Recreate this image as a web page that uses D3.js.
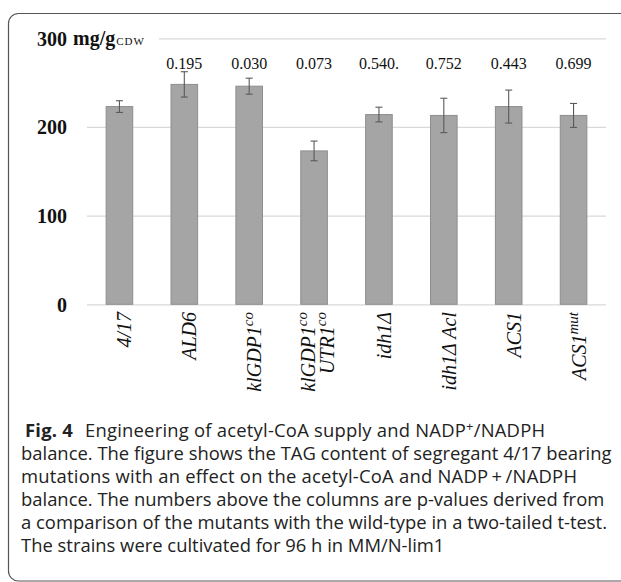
<!DOCTYPE html>
<html><head><meta charset="utf-8">
<script src="https://cdn.jsdelivr.net/npm/d3@7"></script>
<style>
body{margin:0;background:#fff}
svg text{white-space:pre}
</style>
</head><body>
<svg id="chart" width="621" height="582"></svg>
<script>
// ---------- data ----------
const categories = ["4/17","ALD6","klGDP1co","klGDP1co UTR1co","idh1Δ","idh1Δ Acl","ACS1","ACS1mut"];
// label lines: [main text, superscript]
const labelLines = [
  [["4/17",""]],
  [["ALD6",""]],
  [["klGDP1","co"]],
  [["klGDP1","co"],["UTR1","co"]],
  [["idh1Δ",""]],
  [["idh1Δ Acl",""]],
  [["ACS1",""]],
  [["ACS1","mut"]]
];
const values = [223, 248, 246, 173, 214, 213, 223, 213];
const errors = [6.6, 14.3, 9, 11.1, 8.3, 19.4, 18.6, 13.5];
const pValues = ["", "0.195", "0.030", "0.073", "0.540.", "0.752", "0.443", "0.699"];
const yTicks = [0, 100, 200, 300];
const unitMain = "mg/g", unitSub = "CDW";
const captionLines = [
  [["Fig. 4","b"],["Engineering of acetyl-CoA supply and NADP","gap"],["+","sup"],["/NADPH","back"]],
  [["balance. The figure shows the TAG content of segregant 4/17 bearing",""]],
  [["mutations with an effect on the acetyl-CoA and NADP\u2009+\u2009/NADPH",""]],
  [["balance. The numbers above the columns are p-values derived from",""]],
  [["a comparison of the mutants with the wild-type in a two-tailed t-test.",""]],
  [["The strains were cultivated for 96 h in MM/N-lim1",""]]
];

// ---------- layout ----------
const svg = d3.select("#chart");
const plotL = 87, plotR = 606, plotT = 38.3, plotB = 304.3;
const serif = "'Liberation Serif','Times New Roman',serif";
const sans = "'Open Sans','Noto Sans',sans-serif";

// frame
svg.append("rect")
  .attr("x", 8.5).attr("y", 13.5).attr("width", 700).attr("height", 567.5)
  .attr("rx", 10).attr("ry", 10)
  .attr("fill", "none").attr("stroke", "#555").attr("stroke-width", 1.2);

const x = d3.scaleBand().domain(categories).range([plotL, plotR]).padding(0);
const y = d3.scaleLinear().domain([0, 300]).range([plotB, plotT]);
const barW = x.bandwidth() * 0.41;
const cx = d => x(d) + x.bandwidth() / 2;

// gridlines + y labels
const yAxis = d3.axisLeft(y).tickValues(yTicks).tickSize(-(plotR - plotL)).tickPadding(20).tickFormat(d3.format("d"));
const gy = svg.append("g").attr("transform", `translate(${plotL},0)`).call(yAxis);
gy.select(".domain").remove();
gy.selectAll(".tick line").attr("stroke", "#d9d9d9").attr("stroke-width", 1.2);
gy.selectAll(".tick text")
  .attr("font-family", serif).attr("font-size", 20).attr("font-weight", "bold").attr("fill", "#111")
  .attr("dy", "0.34em");

// unit label after the 300 tick
const unitG = svg.append("g");
const unitText = unitG.append("text")
  .attr("x", plotL - 20 + 6).attr("y", y(300)).attr("dy", "0.34em")
  .attr("font-family", serif).attr("font-size", 20).attr("font-weight", "bold").attr("fill", "#111");
unitText.append("tspan").text(unitMain);
unitText.append("tspan").attr("font-size", 11).attr("font-weight", "normal").attr("letter-spacing", 1).attr("dx", 1).text(unitSub);
const bb = unitText.node().getBBox();
unitG.insert("rect", "text")
  .attr("x", plotL).attr("y", y(300) - 3).attr("width", bb.x + bb.width + 14 - plotL).attr("height", 6)
  .attr("fill", "#fff");

// bars
svg.append("g").selectAll("rect").data(categories).join("rect")
  .attr("x", d => cx(d) - barW / 2)
  .attr("y", (d, i) => y(values[i]))
  .attr("width", barW)
  .attr("height", (d, i) => y(0) - y(values[i]))
  .attr("fill", "#a5a5a5").attr("stroke", "#8e8e8e").attr("stroke-width", 1);

// error bars
const eg = svg.append("g").attr("stroke", "#5a5a5a").attr("stroke-width", 1.1);
categories.forEach((c, i) => {
  const xc = cx(c), lo = y(values[i] - errors[i]), hi = y(values[i] + errors[i]);
  eg.append("line").attr("x1", xc).attr("x2", xc).attr("y1", lo).attr("y2", hi);
  eg.append("line").attr("x1", xc - 3.5).attr("x2", xc + 3.5).attr("y1", lo).attr("y2", lo);
  eg.append("line").attr("x1", xc - 3.5).attr("x2", xc + 3.5).attr("y1", hi).attr("y2", hi);
});

// p-values
svg.append("g").selectAll("text").data(categories).join("text")
  .attr("x", d => cx(d)).attr("y", 68.5)
  .attr("text-anchor", "middle")
  .attr("font-family", serif).attr("font-size", 16).attr("fill", "#111")
  .text((d, i) => pValues[i]);

// x labels (rotated)
const xl = svg.append("g");
categories.forEach((c, i) => {
  const lines = labelLines[i];
  const n = lines.length;
  lines.forEach((ln, j) => {
    const off = n === 1 ? 12 : (j === 0 ? 1 : 20);
    const t = xl.append("text")
      .attr("transform", `translate(${cx(c) + off},312) rotate(-90)`)
      .attr("text-anchor", "end")
      .attr("font-family", serif).attr("font-style", "italic")
      .attr("font-size", 20).attr("fill", "#111");
    t.append("tspan").text(ln[0]);
    if (ln[1]) t.append("tspan").attr("font-size", 15).attr("dy", -8).text(ln[1]);
  });
});

// caption
const capG = svg.append("g").attr("font-family", sans).attr("fill", "#222");
const probe = capG.append("text").attr("font-size", 16).text(captionLines[1][0][0]);
const w16 = probe.node().getComputedTextLength();
probe.remove();
const capFs = 16 * 591 / w16;
const lineTargets = [520, null, 556, null, null, null];
captionLines.forEach((segs, i) => {
  const t = capG.append("text")
    .attr("x", i === 0 ? 25 : 21)
    .attr("y", 437 + 23 * i)
    .attr("font-size", capFs);
  segs.forEach(s => {
    const ts = t.append("tspan").text(s[0]);
    if (s[1] === "b") ts.attr("font-weight", "bold");
    if (s[1] === "gap") ts.attr("dx", 12);
    if (s[1] === "sup") ts.attr("font-size", capFs * 0.7).attr("dy", -6);
    if (s[1] === "back") ts.attr("dy", 6);
  });
  if (lineTargets[i]) {
    const w = t.node().getComputedTextLength();
    if (Math.abs(w - lineTargets[i]) > 3) t.attr("textLength", lineTargets[i]).attr("lengthAdjust", "spacing");
  }
});
</script>
</body></html>
